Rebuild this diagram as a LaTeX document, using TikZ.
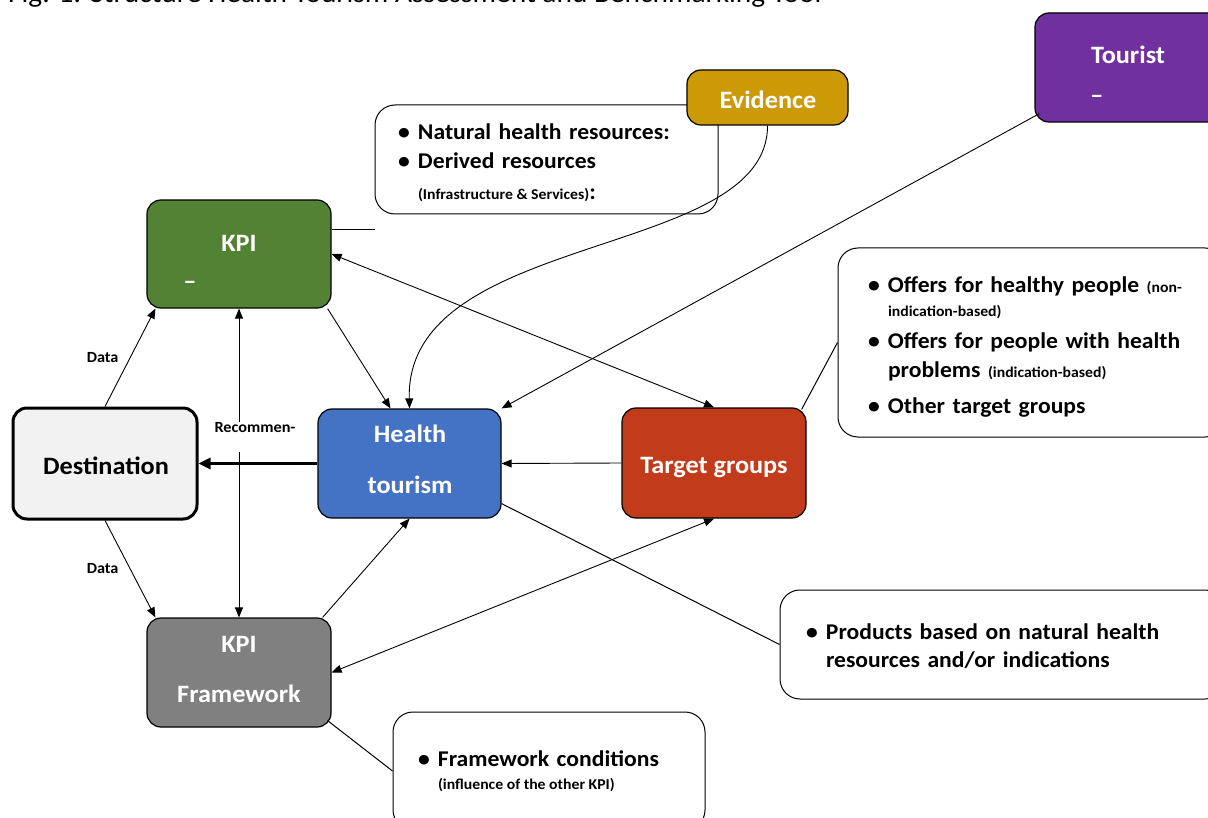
\documentclass[tikz,border=0pt]{standalone}
\usepackage{fontspec}
\setmainfont{Carlito}[FakeStretch=1.05]
\usetikzlibrary{arrows.meta, positioning}

\definecolor{kpigreen}{HTML}{548235}
\definecolor{htblue}{HTML}{4472C4}
\definecolor{tgred}{HTML}{C23B1B}
\definecolor{kpigrey}{HTML}{808080}
\definecolor{evgold}{HTML}{CC9A06}
\definecolor{tourpurple}{HTML}{7030A0}
\definecolor{destfill}{HTML}{F2F2F2}

\newcommand{\bul}{\makebox[20pt][l]{\textbullet}}
\newcommand{\ind}{\hspace*{20pt}}
\newcommand{\smalltxt}[1]{{\fontsize{15}{18}\selectfont\spaceskip=0pt\xspaceskip=0pt #1}}

\begin{document}
\begin{tikzpicture}[x=1pt, y=-1pt, font=\fontsize{22.5}{29}\selectfont\bfseries,
    box/.style={draw, line width=1.2pt, rounded corners=14pt, text=white, align=center,
      font=\fontsize{25}{30}\selectfont\bfseries},
    boxtxt/.style={text=white, font=\fontsize{25}{30}\selectfont\bfseries},
    note/.style={draw, line width=1pt, rounded corners=20pt, fill=white, align=left},
    lbl/.style={font=\fontsize{15.5}{18}\selectfont\bfseries},
    arr/.style={-{Triangle[length=10pt,width=8pt]}, line width=0.9pt},
    darr/.style={{Triangle[length=10pt,width=8pt]}-{Triangle[length=10pt,width=8pt]}, line width=0.9pt}]
  \useasboundingbox (0,0) rectangle (1208,818);

  % caption, cut at the top edge
  \node[anchor=base west, font=\fontsize{28}{32}\selectfont, inner sep=0pt] (title) at (8,3)
    {Fig. 1: Structure Health Tourism Assessment and Benchmarking Tool};

  % notes
  \node[note, minimum width=343pt, minimum height=109pt, text width=297pt, inner xsep=23pt] (evnote) at (546.5,159.5)
    {\rule{0pt}{23pt}\bul Natural health resources:\\[0pt]
     \bul Derived resources\\[2pt]
     \ind\smalltxt{(Infrastructure \& Services)}:};
  \node[note, minimum width=387pt, minimum height=189pt, text width=327pt, inner xsep=30pt] (tgnote) at (1031.5,342.5)
    {\rule{0pt}{25pt}\bul Offers for healthy people \smalltxt{(non-}\\[-5pt]
     \ind\smalltxt{indication-based)}\\[3pt]
     \bul Offers for people with health\\[0pt]
     \ind problems \smalltxt{(indication-based)}\\[7pt]
     \bul Other target groups};
  \node[note, minimum width=445pt, minimum height=109pt, text width=393pt, inner xsep=26pt] (prnote) at (1002.5,644.5)
    {\rule{0pt}{19pt}\bul Products based on natural health\\[-1pt]
     \ind resources and/or indications};
  \node[note, minimum width=312pt, minimum height=118pt, text width=262pt, inner xsep=25pt] (fwnote) at (549,771)
    {\bul Framework conditions\\[-6pt]
     \ind\smalltxt{(influence of the other KPI)}};

  % boxes
  \node[box, fill=kpigreen, minimum width=184pt, minimum height=108pt] (kpiR) at (239,254) {};
  \node[box, fill=destfill, text=black, line width=3pt, minimum width=184pt, minimum height=111pt] (dest) at (105,463.5) {};
  \node[box, fill=htblue, minimum width=183pt, minimum height=109pt] (hto) at (409.5,463.5) {};
  \node[box, fill=tgred, minimum width=184pt, minimum height=110pt] (tgt) at (714,463) {};
  \node[box, fill=kpigrey, minimum width=184pt, minimum height=109pt] (kpiF) at (239,672.5) {};
  \node[box, fill=evgold, minimum width=161pt, minimum height=55pt] (evid) at (767.5,97.5) {};
  \node[box, fill=tourpurple, minimum width=190pt, minimum height=109pt] (tour) at (1130,67.5) {};

  \node[boxtxt] (kpiRlbl) at (239,243) {KPI};
  \node[boxtxt] (kpiRdash) at (190,285) {–};
  \node[boxtxt, text=black] (destlbl) at (106,466) {Destination};
  \node[boxtxt] (htolbl1) at (410,434) {Health};
  \node[boxtxt] (htolbl2) at (410,485) {tourism};
  \node[boxtxt] (tgtlbl) at (714,468) {Target groups};
  \node[boxtxt] (kpiFlbl1) at (239,644) {KPI};
  \node[boxtxt] (kpiFlbl2) at (239,694) {Framework};
  \node[boxtxt] (evidlbl) at (768,100) {Evidence};
  \node[boxtxt] (tourlbl) at (1128,55) {Tourist};
  \node[boxtxt] (tourdash) at (1097,99) {–};

  % connectors
  \draw[arr] (dest.north) -- ([xshift=9pt]kpiR.south west) node[lbl, midway, left=8pt] (data1) {Data};
  \draw[arr] (dest.south) -- ([xshift=9pt]kpiF.north west) node[lbl, midway, left=8pt] (data2) {Data};
  \draw[-{Triangle[length=12pt,width=11pt]}, line width=2.8pt] (hto.west) -- (dest.east);
  \draw[darr] (kpiR.south) -- (kpiF.north);
  \node[lbl, fill=white, align=left, inner sep=1pt] (recom) at (255,437) {Recommen-\\\phantom{dations}};
  \draw[arr] ([xshift=-4pt]kpiR.south east) -- ([xshift=-19pt]hto.north);
  \draw[arr] ([xshift=-9pt]kpiF.north east) -- (hto.south);
  \draw[arr] (tgt.west) -- (hto.east);
  \draw[darr] (kpiR.east) -- (tgt.north);
  \draw[darr] (kpiF.east) -- (tgt.south);
  \draw[arr] ([xshift=5pt,yshift=9pt]tour.south west) -- (hto.north east);
  \draw[arr] (evid.south) .. controls (768,260) and (405,230) .. (hto.north);

  % callout lines
  \coordinate (kpiRtail) at (375,230);
  \draw[line width=1pt] (kpiR.east |- kpiRtail) -- (kpiRtail);
  \draw[line width=1pt] ([xshift=-5pt,yshift=-2pt]tgt.north east) -- (tgnote.west);
  \draw[line width=1pt] ([yshift=15pt]hto.south east) -- (prnote.west);
  \draw[line width=1pt] ([xshift=-4pt,yshift=7pt]kpiF.south east) -- (fwnote.west);
\end{tikzpicture}
\end{document}
